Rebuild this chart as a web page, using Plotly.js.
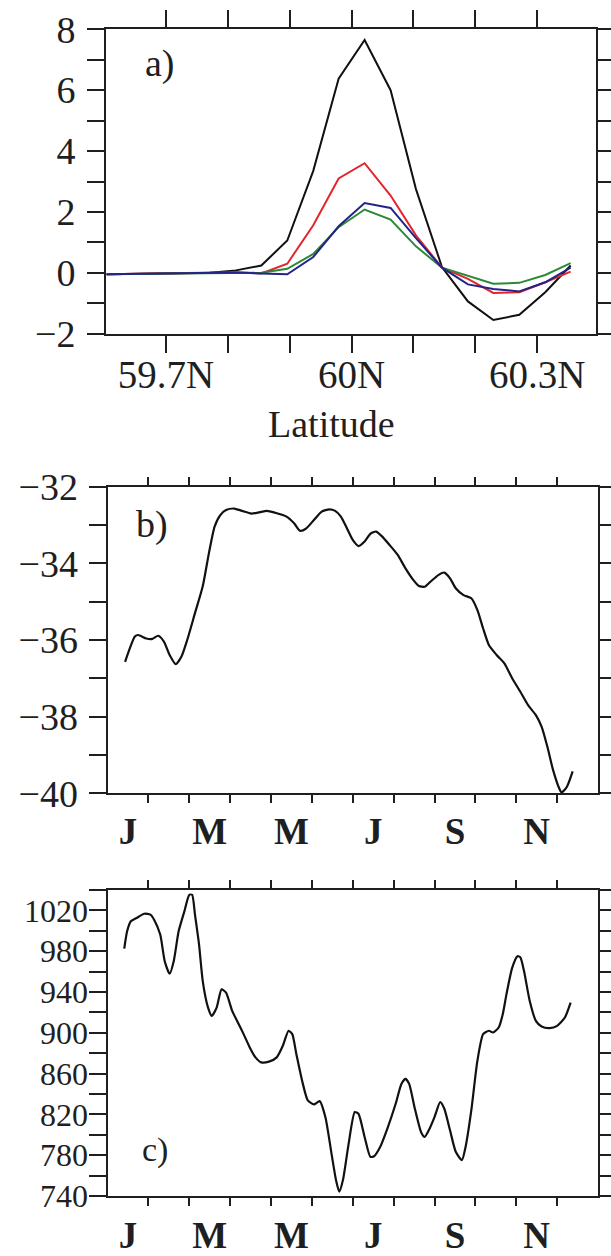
<!DOCTYPE html>
<html>
<head>
<meta charset="utf-8">
<script src="https://cdn.plot.ly/plotly-3.0.1.min.js"></script>
<style>
  html, body { margin: 0; padding: 0; background: #ffffff; }
  #chart { width: 611px; height: 1256px; }
</style>
</head>
<body>
<div id="chart"></div>
<script>
// ---- a) meridional profiles across the front ----
const latitude = [59.604, 59.646, 59.688, 59.729, 59.771, 59.813, 59.854, 59.896, 59.938, 59.979,
                  60.021, 60.063, 60.104, 60.146, 60.188, 60.229, 60.271, 60.313, 60.354];
const profileBlack = [-0.05, -0.04, -0.03, -0.02, 0.00, 0.08, 0.24, 1.06, 3.35, 6.38,
                      7.65, 6.00, 2.75, 0.19, -0.94, -1.55, -1.38, -0.64, 0.24];
const profileRed   = [-0.05, -0.04, -0.03, -0.02, 0.00, 0.02, -0.02, 0.30, 1.56, 3.10,
                      3.60, 2.54, 1.23, 0.17, -0.20, -0.66, -0.64, -0.31, 0.04];
const profileBlue  = [-0.05, -0.04, -0.03, -0.02, 0.00, 0.01, -0.02, -0.05, 0.52, 1.53,
                      2.29, 2.13, 1.14, 0.17, -0.38, -0.53, -0.61, -0.31, 0.17];
const profileGreen = [-0.05, -0.04, -0.03, -0.02, 0.00, 0.01, 0.00, 0.13, 0.62, 1.50,
                      2.08, 1.75, 0.87, 0.17, -0.09, -0.36, -0.33, -0.07, 0.32];
const latTickVals = [59.7, 59.8, 59.9, 60.0, 60.1, 60.2, 60.3];
const latTickText = ['59.7N', '', '', '60N', '', '', '60.3N'];
const aTickVals = [-2, -1, 0, 1, 2, 3, 4, 5, 6, 7, 8];
const aTickText = ['\u22122', '', '0', '', '2', '', '4', '', '6', '', '8'];

// ---- b) annual cycle ----
const bMonth = [0.43, 0.67, 0.75, 0.95, 1.10, 1.24, 1.38, 1.52, 1.67, 1.81, 1.95, 2.14, 2.33, 2.48,
                2.62, 2.76, 2.90, 3.10, 3.29, 3.52, 3.71, 3.90, 4.10, 4.38, 4.57, 4.71, 4.86, 5.05,
                5.24, 5.43, 5.57, 5.71, 5.86, 6.00, 6.14, 6.29, 6.43, 6.57, 6.71, 6.90, 7.10, 7.29,
                7.48, 7.62, 7.76, 7.90, 8.10, 8.24, 8.38, 8.52, 8.71, 8.90, 9.05, 9.19, 9.33, 9.52,
                9.71, 9.90, 10.10, 10.29, 10.48, 10.62, 10.76, 10.90, 11.05, 11.11, 11.24, 11.38];
const bValue = [-36.57, -35.91, -35.87, -35.96, -35.97, -35.89, -36.04, -36.39, -36.63, -36.43, -36.00,
                -35.30, -34.60, -33.74, -33.04, -32.74, -32.61, -32.57, -32.63, -32.70, -32.67, -32.63,
                -32.68, -32.78, -32.96, -33.15, -33.09, -32.87, -32.65, -32.59, -32.63, -32.78, -33.09,
                -33.39, -33.55, -33.43, -33.23, -33.17, -33.29, -33.52, -33.78, -34.13, -34.43, -34.59,
                -34.61, -34.48, -34.30, -34.24, -34.39, -34.65, -34.83, -34.91, -35.22, -35.70, -36.13,
                -36.39, -36.61, -37.00, -37.35, -37.70, -37.96, -38.26, -38.78, -39.39, -39.87, -39.98,
                -39.83, -39.43];
const bTickVals = [-40, -39, -38, -37, -36, -35, -34, -33, -32];
const bTickText = ['\u221240', '', '\u221238', '', '\u221236', '', '\u221234', '', '\u221232'];

// ---- c) annual cycle ----
const cMonth = [0.41, 0.48, 0.57, 0.71, 0.90, 1.05, 1.14, 1.29, 1.40, 1.52, 1.62, 1.74, 1.88, 2.00,
                2.07, 2.14, 2.24, 2.33, 2.46, 2.55, 2.67, 2.79, 2.90, 3.05, 3.19, 3.33, 3.48, 3.62,
                3.76, 3.95, 4.14, 4.29, 4.43, 4.52, 4.62, 4.76, 4.90, 5.05, 5.19, 5.33, 5.48, 5.59,
                5.67, 5.76, 5.90, 6.05, 6.14, 6.29, 6.43, 6.52, 6.67, 6.86, 7.05, 7.19, 7.29, 7.38,
                7.52, 7.67, 7.76, 7.86, 8.00, 8.14, 8.24, 8.38, 8.52, 8.67, 8.76, 8.90, 9.05, 9.19,
                9.33, 9.43, 9.57, 9.67, 9.76, 9.90, 10.03, 10.10, 10.19, 10.33, 10.48, 10.62, 10.81,
                11.00, 11.19, 11.33];
const cValue = [982.6, 999.5, 1009.3, 1012.5, 1016.7, 1015.8, 1010.9, 996.3, 970.2, 957.9, 970.2,
                999.5, 1019.0, 1035.3, 1035.3, 1015.8, 986.5, 950.7, 924.7, 916.6, 924.7, 942.6, 939.3,
                921.5, 910.1, 898.7, 885.7, 875.9, 871.0, 871.7, 875.9, 887.3, 902.0, 898.7, 879.2,
                853.2, 833.7, 829.8, 833.0, 817.4, 781.6, 755.6, 744.2, 755.6, 791.4, 822.3, 820.7,
                797.9, 778.4, 779.0, 788.1, 807.6, 830.4, 849.9, 854.8, 849.9, 825.5, 802.8, 797.9,
                804.4, 817.4, 832.0, 825.5, 804.4, 783.3, 775.1, 788.1, 823.9, 872.7, 898.7, 902.0,
                900.3, 905.2, 918.2, 937.7, 963.7, 975.1, 974.1, 960.5, 931.2, 911.7, 906.2, 904.6,
                906.8, 915.0, 929.6];
const cTickVals = [740, 760, 780, 800, 820, 840, 860, 880, 900, 920, 940, 960, 980, 1000, 1020, 1040];
const cTickText = ['740', '', '780', '', '820', '', '860', '', '900', '', '940', '', '980', '', '1020', ''];

// month axis shared by b) and c)
const monthEdges = [1, 2, 3, 4, 5, 6, 7, 8, 9, 10, 11];
const yearEnds = [0, 12];
const monthMid = [0.5, 2.5, 4.5, 6.5, 8.5, 10.5];
const monthLetters = ['J', 'M', 'M', 'J', 'S', 'N'];

// ---- page geometry (pixels -> paper fractions) ----
const W = 611, H = 1256;
const px = v => v / W;
const py = v => 1 - v / H;

const SERIF = '"Liberation Serif", "Times New Roman", serif';
const INK = '#1f1f1f';

const frame = {
  showline: true, linewidth: 2, linecolor: INK, mirror: 'ticks',
  ticks: 'outside', tickwidth: 2, tickcolor: INK,
  showgrid: false, zeroline: false, fixedrange: true
};

const traces = [
  { x: latitude, y: profileBlack, xaxis: 'x', yaxis: 'y', mode: 'lines', line: { color: '#111111', width: 2 } },
  { x: latitude, y: profileRed,   xaxis: 'x', yaxis: 'y', mode: 'lines', line: { color: '#e3262b', width: 2 } },
  { x: latitude, y: profileGreen, xaxis: 'x', yaxis: 'y', mode: 'lines', line: { color: '#2b8a35', width: 2 } },
  { x: latitude, y: profileBlue,  xaxis: 'x', yaxis: 'y', mode: 'lines', line: { color: '#23238a', width: 2 } },
  { x: bMonth, y: bValue, xaxis: 'x2', yaxis: 'y2', mode: 'lines',
    line: { color: '#111111', width: 2.2, shape: 'spline', smoothing: 0.6 } },
  { x: cMonth, y: cValue, xaxis: 'x3', yaxis: 'y3', mode: 'lines',
    line: { color: '#111111', width: 2.2, shape: 'spline', smoothing: 0.6 } }
];

const monthAxis = (anchor, domainL, domainR, standoff) => Object.assign({}, frame, {
  anchor: anchor, domain: [px(domainL), px(domainR)], range: [0, 12],
  tickmode: 'array', tickvals: monthMid, ticktext: monthLetters, ticklen: 0,
  ticklabelstandoff: standoff,
  tickfont: { family: SERIF, size: 37, color: INK, weight: 'bold' },
  minor: { tickmode: 'array', tickvals: monthEdges, ticks: 'outside', ticklen: 8, tickwidth: 2, tickcolor: INK }
});

const endTicks = (overlay, anchor) => ({
  overlaying: overlay, anchor: anchor, range: [0, 12], side: 'bottom',
  tickmode: 'array', tickvals: yearEnds, ticks: 'outside', ticklen: 16, tickwidth: 2, tickcolor: INK,
  showticklabels: false, showline: false, mirror: 'ticks', showgrid: false, zeroline: false, fixedrange: true
});

const layout = {
  width: W, height: H,
  margin: { l: 0, r: 0, t: 0, b: 0 },
  paper_bgcolor: '#ffffff', plot_bgcolor: '#ffffff',
  showlegend: false,
  font: { family: SERIF, color: INK },

  xaxis: Object.assign({}, frame, {
    anchor: 'y', domain: [px(106), px(596)], range: [59.603, 60.395],
    tickmode: 'array', tickvals: latTickVals, ticktext: latTickText, ticklen: 17,
    ticklabelstandoff: -12,
    tickfont: { family: SERIF, size: 39, color: INK }
  }),
  yaxis: Object.assign({}, frame, {
    anchor: 'x', domain: [py(333.7), py(29.3)], range: [-2, 8],
    tickmode: 'array', tickvals: aTickVals, ticktext: aTickText, ticklen: 17,
    ticklabelstandoff: 4,
    tickfont: { family: SERIF, size: 38, color: INK }
  }),

  xaxis2: monthAxis('y2', 107.5, 598, 4),
  yaxis2: Object.assign({}, frame, {
    anchor: 'x2', domain: [py(793.3), py(486.7)], range: [-40, -32],
    tickmode: 'array', tickvals: bTickVals, ticktext: bTickText, ticklen: 17,
    ticklabelstandoff: 3,
    tickfont: { family: SERIF, size: 38, color: INK }
  }),
  xaxis4: endTicks('x2', 'y2'),

  xaxis3: monthAxis('y3', 107.5, 598, 6),
  yaxis3: Object.assign({}, frame, {
    anchor: 'x3', domain: [py(1196), py(890)], range: [740, 1040],
    tickmode: 'array', tickvals: cTickVals, ticktext: cTickText, ticklen: 17,
    ticklabelstandoff: -6,
    tickfont: { family: SERIF, size: 32, color: INK }
  }),
  xaxis5: endTicks('x3', 'y3'),

  annotations: [
    { text: 'Latitude', xref: 'paper', yref: 'paper', x: px(331), y: py(424),
      xanchor: 'center', yanchor: 'middle', showarrow: false,
      font: { family: SERIF, size: 38, color: INK } },
    { text: 'a)', xref: 'paper', yref: 'paper', x: px(143), y: py(64),
      xanchor: 'left', yanchor: 'middle', showarrow: false,
      font: { family: SERIF, size: 38, color: INK } },
    { text: 'b)', xref: 'paper', yref: 'paper', x: px(134), y: py(524),
      xanchor: 'left', yanchor: 'middle', showarrow: false,
      font: { family: SERIF, size: 38, color: INK } },
    { text: 'c)', xref: 'paper', yref: 'paper', x: px(140), y: py(1150),
      xanchor: 'left', yanchor: 'middle', showarrow: false,
      font: { family: SERIF, size: 34, color: INK } }
  ]
};

Plotly.newPlot('chart', traces, layout, { staticPlot: true, displayModeBar: false });
</script>
</body>
</html>
